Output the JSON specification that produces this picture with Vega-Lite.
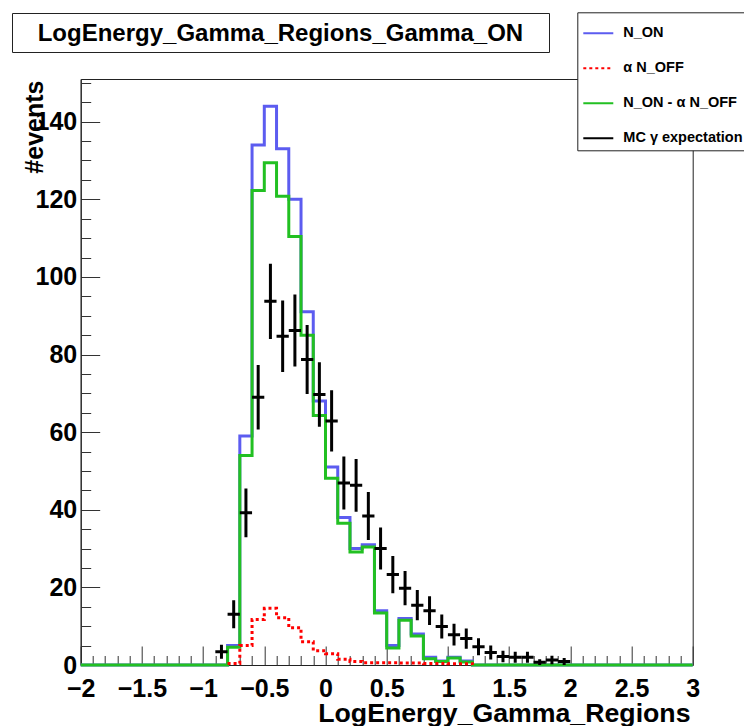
{
  "$schema": "https://vega.github.io/schema/vega-lite/v6.json",
  "width": 612,
  "height": 586,
  "autosize": "none",
  "padding": {"left": 80.7, "top": 79, "right": 51.3, "bottom": 61},
  "background": "white",
  "config": {"view": {"stroke": "#222", "strokeWidth": 1}, "font": "Liberation Sans", "axis": {"labelOverlap": false}},
  "title": {"text": "LogEnergy_Gamma_Regions_Gamma_ON", "anchor": "start", "frame": "group", "font": "Liberation Sans", "fontSize": 24, "fontWeight": "bold", "color": "black", "offset": 0, "dx": -43, "dy": 53.5, "baseline": "alphabetic"},
  "datasets": {
    "hist": [
      {"series": "N_ON", "x": -2, "y": 0}, {"series": "N_ON", "x": -0.8, "y": 5}, {"series": "N_ON", "x": -0.7, "y": 59}, {"series": "N_ON", "x": -0.6, "y": 134}, {"series": "N_ON", "x": -0.5, "y": 144}, {"series": "N_ON", "x": -0.4, "y": 133}, {"series": "N_ON", "x": -0.3, "y": 120}, {"series": "N_ON", "x": -0.2, "y": 91}, {"series": "N_ON", "x": -0.1, "y": 68}, {"series": "N_ON", "x": 0, "y": 51}, {"series": "N_ON", "x": 0.1, "y": 38}, {"series": "N_ON", "x": 0.2, "y": 30}, {"series": "N_ON", "x": 0.3, "y": 31}, {"series": "N_ON", "x": 0.4, "y": 14}, {"series": "N_ON", "x": 0.5, "y": 5}, {"series": "N_ON", "x": 0.6, "y": 12}, {"series": "N_ON", "x": 0.7, "y": 8}, {"series": "N_ON", "x": 0.8, "y": 2}, {"series": "N_ON", "x": 0.9, "y": 1}, {"series": "N_ON", "x": 1.0, "y": 2}, {"series": "N_ON", "x": 1.1, "y": 1}, {"series": "N_ON", "x": 1.2, "y": 0}, {"series": "N_ON", "x": 3, "y": 0},
      {"series": "N_ON - α N_OFF", "x": -2, "y": 0}, {"series": "N_ON - α N_OFF", "x": -0.8, "y": 4.6}, {"series": "N_ON - α N_OFF", "x": -0.7, "y": 54}, {"series": "N_ON - α N_OFF", "x": -0.6, "y": 122.3}, {"series": "N_ON - α N_OFF", "x": -0.5, "y": 129.4}, {"series": "N_ON - α N_OFF", "x": -0.4, "y": 120.8}, {"series": "N_ON - α N_OFF", "x": -0.3, "y": 110.4}, {"series": "N_ON - α N_OFF", "x": -0.2, "y": 85}, {"series": "N_ON - α N_OFF", "x": -0.1, "y": 64.3}, {"series": "N_ON - α N_OFF", "x": 0, "y": 48.1}, {"series": "N_ON - α N_OFF", "x": 0.1, "y": 36.5}, {"series": "N_ON - α N_OFF", "x": 0.2, "y": 29.1}, {"series": "N_ON - α N_OFF", "x": 0.3, "y": 30.4}, {"series": "N_ON - α N_OFF", "x": 0.4, "y": 13.4}, {"series": "N_ON - α N_OFF", "x": 0.5, "y": 4.4}, {"series": "N_ON - α N_OFF", "x": 0.6, "y": 11.5}, {"series": "N_ON - α N_OFF", "x": 0.7, "y": 7.5}, {"series": "N_ON - α N_OFF", "x": 0.8, "y": 1.6}, {"series": "N_ON - α N_OFF", "x": 0.9, "y": 0.9}, {"series": "N_ON - α N_OFF", "x": 1.0, "y": 1.8}, {"series": "N_ON - α N_OFF", "x": 1.1, "y": 0.8}, {"series": "N_ON - α N_OFF", "x": 1.2, "y": 0}, {"series": "N_ON - α N_OFF", "x": 3, "y": 0},
      {"series": "α N_OFF", "x": -0.8, "y": 0.4}, {"series": "α N_OFF", "x": -0.7, "y": 5}, {"series": "α N_OFF", "x": -0.6, "y": 11.7}, {"series": "α N_OFF", "x": -0.5, "y": 14.6}, {"series": "α N_OFF", "x": -0.4, "y": 12.2}, {"series": "α N_OFF", "x": -0.3, "y": 9.6}, {"series": "α N_OFF", "x": -0.2, "y": 6}, {"series": "α N_OFF", "x": -0.1, "y": 3.7}, {"series": "α N_OFF", "x": 0, "y": 2.9}, {"series": "α N_OFF", "x": 0.1, "y": 1.5}, {"series": "α N_OFF", "x": 0.2, "y": 0.9}, {"series": "α N_OFF", "x": 0.3, "y": 0.6}, {"series": "α N_OFF", "x": 0.4, "y": 0.6}, {"series": "α N_OFF", "x": 0.5, "y": 0.6}, {"series": "α N_OFF", "x": 0.6, "y": 0.5}, {"series": "α N_OFF", "x": 0.7, "y": 0.5}, {"series": "α N_OFF", "x": 0.8, "y": 0.4}, {"series": "α N_OFF", "x": 0.9, "y": 0.4}, {"series": "α N_OFF", "x": 1.0, "y": 0.3}, {"series": "α N_OFF", "x": 1.1, "y": 0.3}, {"series": "α N_OFF", "x": 1.2, "y": 0}
    ],
    "mc": [
      {"series": "MC γ expectation", "x": -0.85, "lo": -0.9, "hi": -0.8, "y": 3.4, "ylo": 1.6, "yhi": 5.2},
      {"series": "MC γ expectation", "x": -0.75, "lo": -0.8, "hi": -0.7, "y": 13.1, "ylo": 9.5, "yhi": 16.7},
      {"series": "MC γ expectation", "x": -0.65, "lo": -0.7, "hi": -0.6, "y": 39.2, "ylo": 32.9, "yhi": 45.5},
      {"series": "MC γ expectation", "x": -0.55, "lo": -0.6, "hi": -0.5, "y": 69.0, "ylo": 60.7, "yhi": 77.3},
      {"series": "MC γ expectation", "x": -0.45, "lo": -0.5, "hi": -0.4, "y": 93.7, "ylo": 84.0, "yhi": 103.4},
      {"series": "MC γ expectation", "x": -0.35, "lo": -0.4, "hi": -0.3, "y": 84.7, "ylo": 75.5, "yhi": 93.9},
      {"series": "MC γ expectation", "x": -0.25, "lo": -0.3, "hi": -0.2, "y": 86.2, "ylo": 76.9, "yhi": 95.5},
      {"series": "MC γ expectation", "x": -0.15, "lo": -0.2, "hi": -0.1, "y": 78.7, "ylo": 69.8, "yhi": 87.6},
      {"series": "MC γ expectation", "x": -0.05, "lo": -0.1, "hi": 0.0, "y": 69.7, "ylo": 61.4, "yhi": 78.0},
      {"series": "MC γ expectation", "x": 0.05, "lo": 0.0, "hi": 0.1, "y": 62.9, "ylo": 55.0, "yhi": 70.8},
      {"series": "MC γ expectation", "x": 0.15, "lo": 0.1, "hi": 0.2, "y": 46.9, "ylo": 40.1, "yhi": 53.7},
      {"series": "MC γ expectation", "x": 0.25, "lo": 0.2, "hi": 0.3, "y": 46.3, "ylo": 39.5, "yhi": 53.1},
      {"series": "MC γ expectation", "x": 0.35, "lo": 0.3, "hi": 0.4, "y": 38.4, "ylo": 32.2, "yhi": 44.6},
      {"series": "MC γ expectation", "x": 0.45, "lo": 0.4, "hi": 0.5, "y": 30.0, "ylo": 24.6, "yhi": 35.4},
      {"series": "MC γ expectation", "x": 0.55, "lo": 0.5, "hi": 0.6, "y": 23.3, "ylo": 18.5, "yhi": 28.1},
      {"series": "MC γ expectation", "x": 0.65, "lo": 0.6, "hi": 0.7, "y": 19.8, "ylo": 15.4, "yhi": 24.2},
      {"series": "MC γ expectation", "x": 0.75, "lo": 0.7, "hi": 0.8, "y": 15.4, "ylo": 11.5, "yhi": 19.3},
      {"series": "MC γ expectation", "x": 0.85, "lo": 0.8, "hi": 0.9, "y": 14.0, "ylo": 10.3, "yhi": 17.7},
      {"series": "MC γ expectation", "x": 0.95, "lo": 0.9, "hi": 1.0, "y": 9.9, "ylo": 6.8, "yhi": 13.0},
      {"series": "MC γ expectation", "x": 1.05, "lo": 1.0, "hi": 1.1, "y": 7.8, "ylo": 5.0, "yhi": 10.6},
      {"series": "MC γ expectation", "x": 1.15, "lo": 1.1, "hi": 1.2, "y": 6.8, "ylo": 4.2, "yhi": 9.4},
      {"series": "MC γ expectation", "x": 1.25, "lo": 1.2, "hi": 1.3, "y": 4.7, "ylo": 2.5, "yhi": 6.9},
      {"series": "MC γ expectation", "x": 1.35, "lo": 1.3, "hi": 1.4, "y": 3.2, "ylo": 1.4, "yhi": 5.0},
      {"series": "MC γ expectation", "x": 1.45, "lo": 1.4, "hi": 1.5, "y": 2.2, "ylo": 0.7, "yhi": 3.7},
      {"series": "MC γ expectation", "x": 1.55, "lo": 1.5, "hi": 1.6, "y": 2.0, "ylo": 0.6, "yhi": 3.4},
      {"series": "MC γ expectation", "x": 1.65, "lo": 1.6, "hi": 1.7, "y": 2.0, "ylo": 0.6, "yhi": 3.4},
      {"series": "MC γ expectation", "x": 1.75, "lo": 1.7, "hi": 1.8, "y": 0.7, "ylo": 0.0, "yhi": 1.5},
      {"series": "MC γ expectation", "x": 1.85, "lo": 1.8, "hi": 1.9, "y": 1.3, "ylo": 0.2, "yhi": 2.4},
      {"series": "MC γ expectation", "x": 1.95, "lo": 1.9, "hi": 2.0, "y": 0.9, "ylo": 0.0, "yhi": 1.8}
    ],
    "box": [{"box": "frame"}]
  },
  "layer": [
    {
      "layer": [
        {
          "data": {"name": "hist"},
          "mark": {"type": "line", "interpolate": "step-after", "strokeWidth": 3, "clip": false},
          "encoding": {
            "x": {
              "field": "x", "type": "quantitative",
              "scale": {"domain": [-2, 3], "nice": false, "zero": false},
              "axis": {
                "title": "LogEnergy_Gamma_Regions", "orient": "bottom",
                "values": [-2, -1.5, -1, -0.5, 0, 0.5, 1, 1.5, 2, 2.5, 3],
                "format": "~g",
                "tickSize": -19,
                "grid": false, "domainColor": "#222", "tickColor": "#333", "tickWidth": 1,
                "labelFont": "Liberation Sans", "labelFontSize": 25, "labelFontWeight": "bold", "labelColor": "black",
                "labelPadding": 30, "labelFlush": false, "labelOverlap": false, "labelBound": false,
                "titleFont": "Liberation Sans", "titleFontSize": 26.7, "titleFontWeight": "bold", "titleColor": "black",
                "titleAnchor": "end", "titleAlign": "right", "titleX": 609.3, "titleY": 56, "titleBaseline": "alphabetic"
              }
            },
            "y": {
              "field": "y", "type": "quantitative",
              "scale": {"domain": [0, 151], "nice": false},
              "axis": {
                "title": "#events", "orient": "left",
                "values": [0, 20, 40, 60, 80, 100, 120, 140],
                "tickSize": -19,
                "grid": false, "domainColor": "#222", "tickColor": "#333", "tickWidth": 1,
                "labelFont": "Liberation Sans", "labelFontSize": 25, "labelFontWeight": "bold", "labelColor": "black",
                "labelPadding": 23, "labelOverlap": false, "labelBound": false, "labelFlush": false,
                "titleFont": "Liberation Sans", "titleFontSize": 25, "titleFontWeight": "bold", "titleColor": "black",
                "titleAnchor": "end", "titleAlign": "right", "titleAngle": -90, "titleX": -38, "titleY": 1, "titleBaseline": "alphabetic"
              }
            },
            "color": {
              "field": "series", "type": "nominal",
              "scale": {"domain": ["N_ON", "α N_OFF", "N_ON - α N_OFF", "MC γ expectation"], "range": ["#5c5cf0", "#ff0000", "#22c022", "#000000"]},
              "legend": {"orient": "none", "legendX": 496.6, "legendY": -66.7, "title": null, "strokeColor": "#222", "fillColor": "white", "padding": 5, "rowPadding": 12, "symbolType": "stroke", "symbolSize": 900, "symbolStrokeWidth": 2, "labelFont": "Liberation Sans", "labelFontWeight": "bold", "labelFontSize": 14.5, "labelOffset": 9, "labelColor": "black", "labelLimit": 300}
            },
            "strokeDash": {
              "field": "series", "type": "nominal",
              "scale": {"domain": ["N_ON", "α N_OFF", "N_ON - α N_OFF", "MC γ expectation"], "range": [[1, 0], [3, 3], [1, 0], [1, 0]]},
              "legend": {"orient": "none", "legendX": 496.6, "legendY": -66.7, "title": null, "strokeColor": "#222", "fillColor": "white", "padding": 5, "rowPadding": 12, "symbolType": "stroke", "symbolSize": 900, "symbolStrokeWidth": 2, "labelFont": "Liberation Sans", "labelFontWeight": "bold", "labelFontSize": 14.5, "labelOffset": 9, "labelColor": "black", "labelLimit": 300}
            }
          }
        },
        {
          "data": {"name": "mc"},
          "mark": {"type": "rule", "strokeWidth": 3},
          "encoding": {
            "x": {"field": "x", "type": "quantitative"},
            "y": {"field": "ylo", "type": "quantitative"},
            "y2": {"field": "yhi"},
            "color": {"field": "series", "type": "nominal"},
            "strokeDash": {"field": "series", "type": "nominal"}
          }
        },
        {
          "data": {"name": "mc"},
          "mark": {"type": "rule", "strokeWidth": 3},
          "encoding": {
            "x": {"field": "lo", "type": "quantitative"},
            "x2": {"field": "hi"},
            "y": {"field": "y", "type": "quantitative"},
            "color": {"field": "series", "type": "nominal"},
            "strokeDash": {"field": "series", "type": "nominal"}
          }
        },
        {
          "data": {"name": "box"},
          "mark": {"type": "point", "opacity": 0},
          "encoding": {
            "shape": {"field": "box", "type": "nominal", "legend": {"orient": "none", "legendX": -68.7, "legendY": -66, "title": null, "strokeColor": "#222", "padding": 0, "symbolSize": 1521, "symbolOpacity": 0, "symbolStrokeWidth": 0, "labelExpr": "''", "labelOffset": 498, "labelFontSize": 1}}
          }
        }
      ]
    },
    {
      "data": {"name": "mc"},
      "mark": {"type": "point", "opacity": 0},
      "encoding": {
        "x": {
          "field": "x", "type": "quantitative",
          "scale": {"domain": [-2, 3], "nice": false, "zero": false},
          "axis": {"orient": "bottom", "title": null, "labels": false, "domain": false, "grid": false, "tickSize": -9.5, "tickColor": "#333", "tickWidth": 1,
            "values": [-1.9, -1.8, -1.7, -1.6, -1.4, -1.3, -1.2, -1.1, -0.9, -0.8, -0.7, -0.6, -0.4, -0.3, -0.2, -0.1, 0.1, 0.2, 0.3, 0.4, 0.6, 0.7, 0.8, 0.9, 1.1, 1.2, 1.3, 1.4, 1.6, 1.7, 1.8, 1.9, 2.1, 2.2, 2.3, 2.4, 2.6, 2.7, 2.8, 2.9]}
        },
        "y": {
          "field": "y", "type": "quantitative",
          "scale": {"domain": [0, 151], "nice": false},
          "axis": {"orient": "left", "title": null, "labels": false, "domain": false, "grid": false, "tickSize": -10, "tickColor": "#333", "tickWidth": 1,
            "values": [5, 10, 15, 25, 30, 35, 45, 50, 55, 65, 70, 75, 85, 90, 95, 105, 110, 115, 125, 130, 135, 145, 150]}
        }
      }
    }
  ],
  "resolve": {"axis": {"x": "independent", "y": "independent"}}
}
